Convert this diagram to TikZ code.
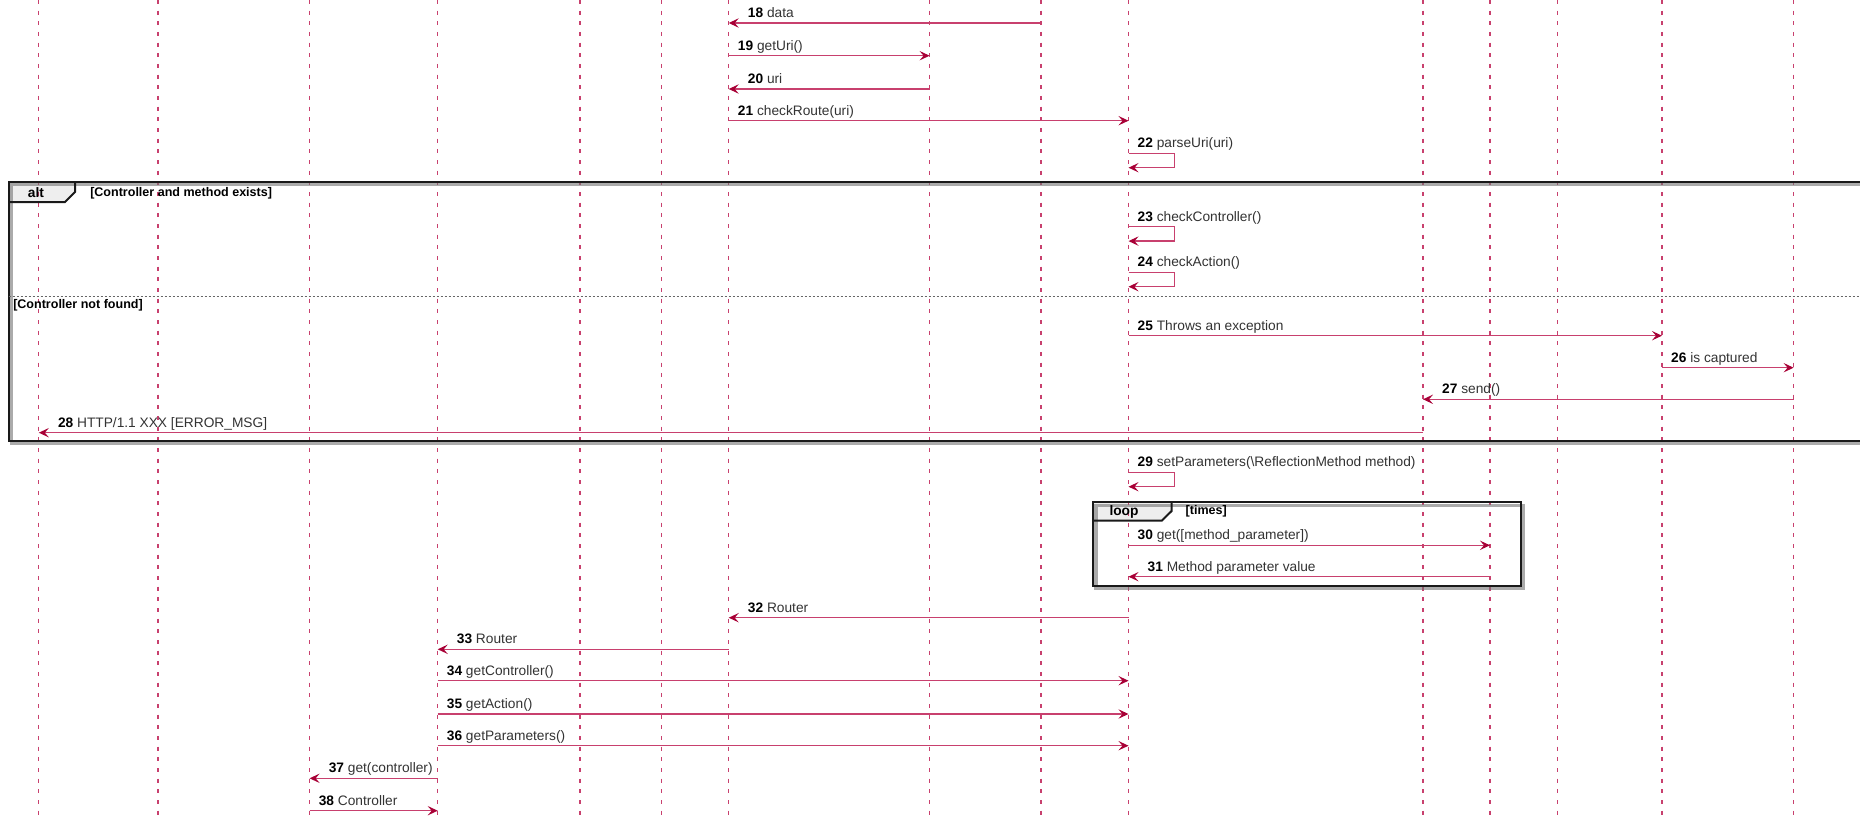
\documentclass[tikz,border=0pt]{standalone}
\usepackage{fontspec}
\setmainfont{Liberation Sans}
\usetikzlibrary{arrows.meta}
\definecolor{cLife}{HTML}{A80036}
\definecolor{cLine}{HTML}{C8406E}
\definecolor{cTab}{HTML}{EEEEEE}
\newcommand\msgfont{\fontsize{10.3}{12}\selectfont\color{black!80}}
\tikzset{
  life/.style={draw=cLine, line width=0.8pt, dash pattern=on 3pt off 5pt},
  msg/.style={draw=cLine, line width=1pt, -{Stealth[length=7.5pt, width=7pt, inset=3pt, color=cLife]}},
  lblR/.style={pos=0, anchor=base west, inner sep=0pt, font=\msgfont, xshift=6.4pt, yshift=4.2pt},
  lblL/.style={anchor=base west, inner sep=0pt, font=\msgfont, xshift=13.9pt, yshift=4.2pt},
  frame/.style={draw=black!90, line width=1.5pt},
  shadowline/.style={draw=black!55, line width=2.5pt, opacity=0.6},
  tab/.style={fill=cTab},
  tabline/.style={draw=black!90, line width=1.5pt},
  tabtxt/.style={font=\bfseries\fontsize{10.3}{12}\selectfont, inner sep=0pt},
  guard/.style={font=\bfseries\fontsize{9.4}{11}\selectfont, inner sep=0pt, anchor=west},
  sep/.style={draw=black!60, line width=0.75pt, dash pattern=on 1.5pt off 1.5pt},
}

\begin{document}
\begin{tikzpicture}[x=0.75pt, y=-0.75pt]
  \fill[white] (0,0) rectangle (1860,817);
  \useasboundingbox (0,0) rectangle (1860,817);
  \foreach \r/\y in {m18/23, m19/55.7, m20/89, m21/120.7, m22/153.3, m23/226.7, m24/272.3,
      m25/335.7, m26/367.7, m27/399.3, m28/432.7, m29/472.3, m30/545.3, m31/576.7,
      m32/617.7, m33/649.3, m34/680.7, m35/714, m36/745.7, m37/778.3, m38/810.7}{
    \coordinate (\r) at (0,\y);
  }

  % frame tabs, under the lifelines
  \fill[tab] (8.7,181.5) -- (75,181.5) -- (75,192) -- (65,202) -- (8.7,202) -- cycle;
  \fill[tab] (1093,502.3) -- (1171.6,502.3) -- (1171.6,511) -- (1161.7,520.7) -- (1093,520.7) -- cycle;

  \foreach \n/\x in {client/38.8, web/158, container/309.6, dispatcher/437.7, kernel/580,
      config/661.5, app/728.7, request/929.6, stream/1041, router/1128.5, response/1423,
      input/1490, logger/1557.5, exception/1662, handler/1793.6}{
    \coordinate (\n) at (\x,0);
    \draw[life] (\n) -- ++(0,817);
  }

  % alt frame
  \coordinate (altNW) at (8.7,181.5);
  \coordinate (altSE) at (1885,440.7);
  \coordinate (altsep) at (0,296);
  \draw[shadowline] ([shift={(3,3)}]altNW) rectangle ([shift={(3,3)}]altSE);
  \draw[frame] (altNW) rectangle (altSE);
  \draw[tabline] (75,181.5) -- (75,192) -- (65,202) -- (8.7,202);
  \node[tabtxt] (altlbl) at (36,192.5) {alt};
  \node[guard] (altg1) at (90,193) {[Controller and method exists]};
  \draw[sep] (altNW |- altsep) -- (altSE |- altsep);
  \node[guard] (altg2) at (13,305) {[Controller not found]};

  % loop frame
  \coordinate (loopNW) at (1093,502.3);
  \coordinate (loopSE) at (1520.7,585.7);
  \draw[shadowline] ([shift={(3,3)}]loopNW) rectangle ([shift={(3,3)}]loopSE);
  \draw[frame] (loopNW) rectangle (loopSE);
  \draw[tabline] (1171.6,502.3) -- (1171.6,511) -- (1161.7,520.7) -- (1093,520.7);
  \node[tabtxt] (looplbl) at (1124,511.5) {loop};
  \node[guard] (loopg) at (1185.4,511.5) {[times]};

  % messages
  \draw[msg] (stream|-m18) -- (app|-m18) node[lblL] {\textbf{\color{black}18} data};
  \draw[msg] (app|-m19) -- (request|-m19) node[lblR] {\textbf{\color{black}19} getUri()};
  \draw[msg] (request|-m20) -- (app|-m20) node[lblL] {\textbf{\color{black}20} uri};
  \draw[msg] (app|-m21) -- (router|-m21) node[lblR] {\textbf{\color{black}21} checkRoute(uri)};
  \draw[msg] (router|-m22) -- ++(46,0) node[lblR] {\textbf{\color{black}22} parseUri(uri)} -- ++(0,14.4) -- ++(-46,0);
  \draw[msg] (router|-m23) -- ++(46,0) node[lblR] {\textbf{\color{black}23} checkController()} -- ++(0,14.4) -- ++(-46,0);
  \draw[msg] (router|-m24) -- ++(46,0) node[lblR] {\textbf{\color{black}24} checkAction()} -- ++(0,14.4) -- ++(-46,0);
  \draw[msg] (router|-m25) -- (exception|-m25) node[lblR] {\textbf{\color{black}25} Throws an exception};
  \draw[msg] (exception|-m26) -- (handler|-m26) node[lblR] {\textbf{\color{black}26} is captured};
  \draw[msg] (handler|-m27) -- (response|-m27) node[lblL] {\textbf{\color{black}27} send()};
  \draw[msg] (response|-m28) -- (client|-m28) node[lblL] {\textbf{\color{black}28} HTTP/1.1 XXX [ERROR\_MSG]};
  \draw[msg] (router|-m29) -- ++(46,0) node[lblR] {\textbf{\color{black}29} setParameters(\textbackslash ReflectionMethod method)} -- ++(0,14.4) -- ++(-46,0);
  \draw[msg] (router|-m30) -- (input|-m30) node[lblR] {\textbf{\color{black}30} get([method\_parameter])};
  \draw[msg] (input|-m31) -- (router|-m31) node[lblL] {\textbf{\color{black}31} Method parameter value};
  \draw[msg] (router|-m32) -- (app|-m32) node[lblL] {\textbf{\color{black}32} Router};
  \draw[msg] (app|-m33) -- (dispatcher|-m33) node[lblL] {\textbf{\color{black}33} Router};
  \draw[msg] (dispatcher|-m34) -- (router|-m34) node[lblR] {\textbf{\color{black}34} getController()};
  \draw[msg] (dispatcher|-m35) -- (router|-m35) node[lblR] {\textbf{\color{black}35} getAction()};
  \draw[msg] (dispatcher|-m36) -- (router|-m36) node[lblR] {\textbf{\color{black}36} getParameters()};
  \draw[msg] (dispatcher|-m37) -- (container|-m37) node[lblL] {\textbf{\color{black}37} get(controller)};
  \draw[msg] (container|-m38) -- (dispatcher|-m38) node[lblR] {\textbf{\color{black}38} Controller};
\end{tikzpicture}
\end{document}
